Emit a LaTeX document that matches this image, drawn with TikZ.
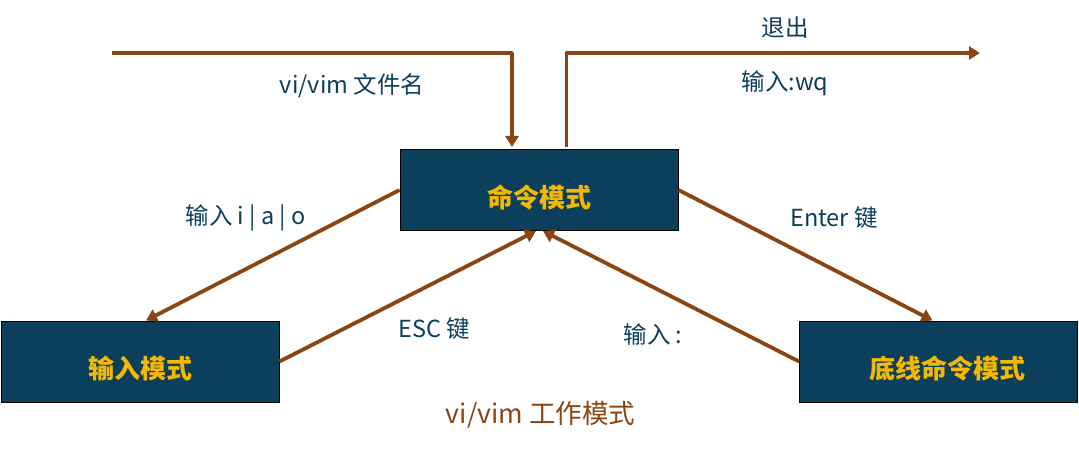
\documentclass[tikz,border=0pt]{standalone}
\usepackage{fontspec}
\setmainfont{Noto Sans CJK SC}
\usetikzlibrary{arrows.meta,calc}
\definecolor{boxfill}{HTML}{0B3F5C}
\definecolor{boxtext}{HTML}{F5B800}
\definecolor{arrowbrown}{HTML}{8B4513}
\definecolor{labeltext}{HTML}{0B3F5C}
\newcommand{\lowtext}[1]{\raisebox{-7pt}[\height][\depth]{#1}}
\tikzset{
  modebox/.style={draw=black, line width=1pt, fill=boxfill, text=boxtext,
    minimum width=278pt, minimum height=81pt, inner sep=0pt,
    font=\fontsize{26}{30}\selectfont\bfseries},
  conn/.style={draw=arrowbrown, line width=3.8pt, line join=round,
    -{Triangle[length=11pt,width=13pt]}},
  lbl/.style={text=labeltext, font=\fontsize{23.5}{27}\selectfont, inner sep=0pt},
  ttl/.style={text=arrowbrown, font=\fontsize{26.5}{30}\selectfont, inner sep=0pt}
}
\begin{document}
\begin{tikzpicture}[x=1pt,y=-1pt]
\useasboundingbox (0,0) rectangle (1079,449);
\node[modebox] (cmd) at (539,190) {\lowtext{命令模式}};
\node[modebox] (inp) at (140,361.5) {\lowtext{输入模式}};
\node[modebox] (bot) at (938.5,361.5) {\hspace*{18pt}\lowtext{底线命令模式}};

\coordinate (s1) at (112,53);
\coordinate (c1) at (512,53);
\coordinate (c2) at (566.5,53);
\coordinate (e2) at (980,53);

\draw[conn] (s1) -- (c1) -- ($(c1 |- cmd.north)+(0,-2)$);
\draw[conn] ($(c2 |- cmd.north)+(0,-2)$) -- (c2) -- (e2);
\draw[conn] (cmd.west) -- ($(inp.north)+(6,0)$);
\draw[conn] (inp.east) -- ($(cmd.south)+(-3,0)$);
\draw[conn] (cmd.east) -- ($(bot.north)+(-6,0)$);
\draw[conn] (bot.west) -- ($(cmd.south)+(4,0)$);

\node[lbl] (l1) at (352,86) {vi/vim 文件名};
\node[lbl] (l2) at (785,28) {退出};
\node[lbl] (l3) at (785,83) {输入:wq};
\node[lbl] (l4) at (245.5,218) {输入 i | a | o};
\node[lbl] (l5) at (434.5,329) {ESC 键};
\node[lbl] (l6) at (834,218) {Enter 键};
\node[lbl] (l7) at (653,335) {输入 :};
\node[ttl] (t) at (540.5,415) {vi/vim 工作模式};
\end{tikzpicture}
\end{document}
